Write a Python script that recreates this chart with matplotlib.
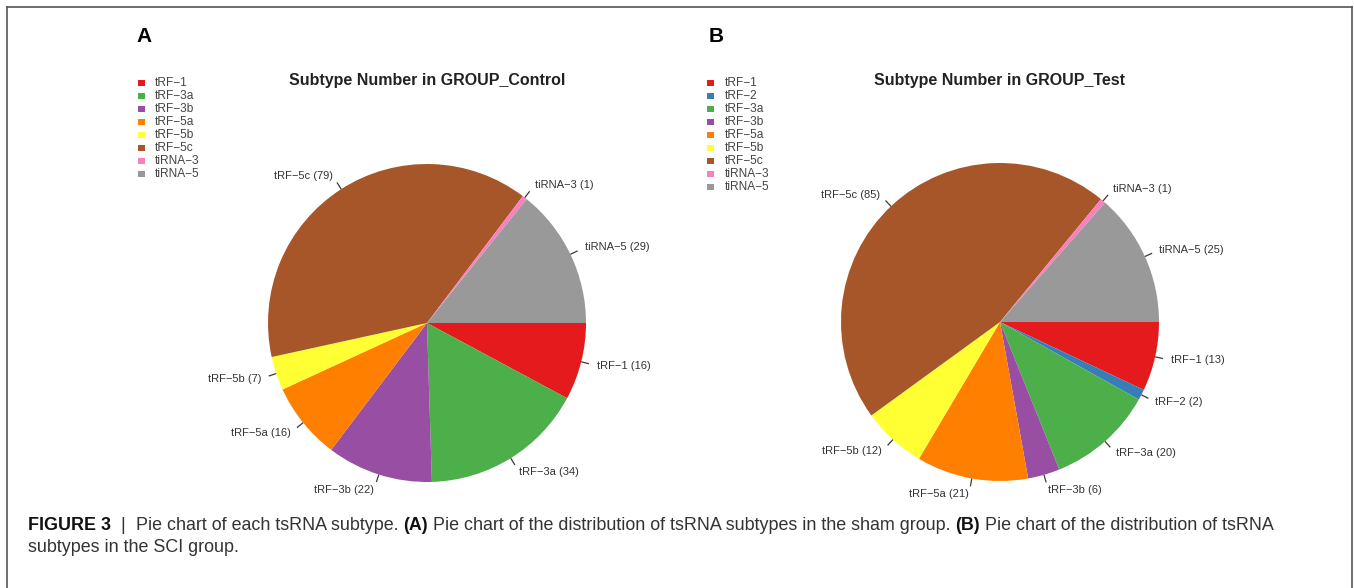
import matplotlib
matplotlib.use("Agg")
import matplotlib.pyplot as plt
import numpy as np
from matplotlib.patches import Rectangle
from matplotlib.lines import Line2D

# ---- data -------------------------------------------------------------
control_names = ["tRF-1", "tRF-3a", "tRF-3b", "tRF-5a", "tRF-5b", "tRF-5c", "tiRNA-3", "tiRNA-5"]
control_counts = [16, 34, 22, 16, 7, 79, 1, 29]

test_names = ["tRF-1", "tRF-2", "tRF-3a", "tRF-3b", "tRF-5a", "tRF-5b", "tRF-5c", "tiRNA-3", "tiRNA-5"]
test_counts = [13, 2, 20, 6, 21, 12, 85, 1, 25]

subtype_colors = {
    "tRF-1": "#E41A1C", "tRF-2": "#377EB8", "tRF-3a": "#4DAF4A", "tRF-3b": "#984EA3",
    "tRF-5a": "#FF7F00", "tRF-5b": "#FFFF33", "tRF-5c": "#A65628", "tiRNA-3": "#F781BF",
    "tiRNA-5": "#999999",
}

# ---- figure -----------------------------------------------------------
W, H = 1354, 588
plt.rcParams["font.family"] = ["Liberation Sans", "DejaVu Sans"]
fig = plt.figure(figsize=(W / 100, H / 100), dpi=100)
fig.patch.set_facecolor("white")


def fx(x):
    return x / W


def fy(y):
    return 1 - y / H


def pretty(name):
    return name.replace("-", "\u2212")


def draw_panel(cx, cy, r, names, counts, title, letter, letter_x, leg_sq_x, leg_txt_x):
    L = 1.7
    half = r * L
    ax = fig.add_axes([fx(cx - half), fy(cy + half), 2 * half / W, 2 * half / H])
    wedges, _ = ax.pie(counts, colors=[subtype_colors[n] for n in names],
                       startangle=0, counterclock=False, radius=1,
                       wedgeprops=dict(linewidth=0))
    ax.set_xlim(-L, L)
    ax.set_ylim(-L, L)
    ax.set_aspect("equal")
    ax.axis("off")
    for w, n, c in zip(wedges, names, counts):
        ang = np.deg2rad((w.theta1 + w.theta2) / 2)
        x, y = np.cos(ang), np.sin(ang)
        ax.plot([x, 1.05 * x], [y, 1.05 * y], color="#3a3a3a", lw=0.9,
                solid_capstyle="butt", clip_on=False)
        ax.text(1.1 * x, 1.1 * y, f"{pretty(n)} ({c})",
                ha="left" if x >= 0 else "right", va="center",
                fontsize=8, color="#333333", clip_on=False)

    fig.text(fx(cx), fy(80), title, ha="center", va="center",
             fontsize=11.5, fontweight="bold", color="#222222")
    fig.text(fx(letter_x), fy(36), letter, ha="left", va="center",
             fontsize=15, fontweight="bold", color="black")

    # legend
    for i, n in enumerate(names):
        yy = 83 + 13 * i
        fig.patches.append(Rectangle((fx(leg_sq_x - 3.5), fy(yy + 3)), 7 / W, 6 / H,
                                     transform=fig.transFigure, facecolor=subtype_colors[n],
                                     edgecolor="none"))
        fig.text(fx(leg_txt_x), fy(yy), pretty(n), ha="left", va="center",
                 fontsize=8.6, color="#444444")


draw_panel(427, 323, 159, control_names, control_counts,
           "Subtype Number in GROUP_Control", "A", 136, 141, 155)
draw_panel(1000, 322, 159, test_names, test_counts,
           "Subtype Number in GROUP_Test", "B", 709, 710.5, 725)

# ---- frame ------------------------------------------------------------
frame_kw = dict(transform=fig.transFigure, color="#555555", lw=1.2)
fig.lines.append(Line2D([fx(7), fx(7)], [fy(7), 0], **frame_kw))
fig.lines.append(Line2D([fx(7), fx(1352)], [fy(7), fy(7)], **frame_kw))
fig.lines.append(Line2D([fx(1352), fx(1352)], [fy(7), 0], **frame_kw))

# ---- caption ----------------------------------------------------------
cap_size = 12.9
line1 = [
    ("FIGURE 3", "bold", "#111111"),
    ("  |  ", "normal", "#333333"),
    ("Pie chart of each tsRNA subtype. ", "normal", "#333333"),
    ("(A)", "bold", "#111111"),
    (" Pie chart of the distribution of tsRNA subtypes in the sham group. ", "normal", "#333333"),
    ("(B)", "bold", "#111111"),
    (" Pie chart of the distribution of tsRNA", "normal", "#333333"),
]
line2 = [("subtypes in the SCI group.", "normal", "#333333")]

fig.canvas.draw()
renderer = fig.canvas.get_renderer()
for pieces, ypix in ((line1, 525), (line2, 548)):
    xpix = 28
    for txt, weight, col in pieces:
        t = fig.text(fx(xpix), fy(ypix), txt, ha="left", va="center",
                     fontsize=cap_size, fontweight=weight, color=col)
        bb = t.get_window_extent(renderer=renderer)
        xpix += bb.width

fig.savefig("out.png", dpi=100, facecolor="white")
